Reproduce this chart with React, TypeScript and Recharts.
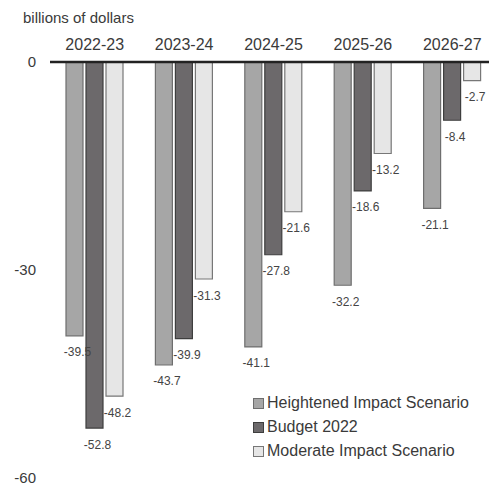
import React from "react";
import { BarChart, Bar, XAxis, YAxis, Legend, LabelList } from "recharts";

const categories = ["2022-23", "2023-24", "2024-25", "2025-26", "2026-27"];
const heightened = [-39.5, -43.7, -41.1, -32.2, -21.1];
const budget2022 = [-52.8, -39.9, -27.8, -18.6, -8.4];
const moderate = [-48.2, -31.3, -21.6, -13.2, -2.7];
const yTicks = [0, -30, -60];

const seriesOrder = ["heightened", "budget", "moderate"];
const seriesNames = {
  heightened: "Heightened Impact Scenario",
  budget: "Budget 2022",
  moderate: "Moderate Impact Scenario",
};

const data = categories.map((c, i) => ({
  year: c,
  heightened: heightened[i],
  budget: budget2022[i],
  moderate: moderate[i],
}));

const FONT = "'Liberation Sans', Arial, sans-serif";

const styles = {
  heightened: { fill: "#a6a6a6", stroke: "#6e6e6e" },
  budget: { fill: "#6c696b", stroke: "#3e3e3e" },
  moderate: { fill: "#e6e6e6", stroke: "#777777" },
};

const renderValueLabel = (props: any) => {
  const { x, y, width, height, value } = props;
  const end = Math.max(Number(y), Number(y) + Number(height));
  return (
    <text
      x={Number(x) + Number(width) / 2 + 3}
      y={end + 20.5}
      textAnchor="middle"
      fontSize={12}
      fontFamily={FONT}
      fill="#444444"
    >
      {Number(value).toFixed(1)}
    </text>
  );
};

const renderLegend = (props: any) => {
  const payload = [...(props.payload || [])].sort(
    (a: any, b: any) =>
      seriesOrder.indexOf(String(a.dataKey)) - seriesOrder.indexOf(String(b.dataKey))
  );
  return (
    <div style={{ fontFamily: FONT }}>
      {payload.map((entry: any) => {
        const key = entry.dataKey as keyof typeof styles;
        const st = styles[key];
        return (
          <div
            key={String(entry.value)}
            style={{ display: "flex", alignItems: "center", height: 24 }}
          >
            <span
              style={{
                display: "inline-block",
                width: 9,
                height: 9,
                background: st.fill,
                border: `1.5px solid ${st.stroke}`,
                marginRight: 3,
              }}
            />
            <span style={{ fontSize: 16, color: "#3a3a3a", lineHeight: "24px" }}>
              {entry.value}
            </span>
          </div>
        );
      })}
    </div>
  );
};

export default function App() {
  return (
    <div
      style={{
        position: "absolute",
        left: 0,
        top: 0,
        width: 489,
        height: 487,
        overflow: "hidden",
        background: "#fff",
      }}
    >
      <div
        style={{
          position: "absolute",
          left: 23,
          top: 9,
          fontFamily: FONT,
          fontSize: 15,
          lineHeight: "17px",
          color: "#3a3a3a",
          whiteSpace: "nowrap",
        }}
      >
        billions of dollars
      </div>
      <BarChart
        width={497}
        height={487}
        data={data}
        margin={{ top: 32, right: 0, left: 0, bottom: 9 }}
        barSize={17}
        barGap={3}
      >
        <XAxis
          dataKey="year"
          orientation="top"
          height={30}
          tickLine={false}
          tickSize={0}
          tickMargin={12}
          axisLine={{ stroke: "#222", strokeWidth: 2.5 }}
          tick={{ fontSize: 16, fill: "#3a3a3a", fontFamily: FONT }}
          interval={0}
        />
        <YAxis
          width={50}
          domain={[-60, 0]}
          ticks={yTicks}
          tickLine={false}
          axisLine={false}
          tickSize={0}
          tickMargin={14}
          tick={{ fontSize: 15, fill: "#3a3a3a", fontFamily: FONT }}
        />
        <Legend
          content={renderLegend}
          layout="vertical"
          align="center"
          verticalAlign="middle"
          wrapperStyle={{ position: "absolute", left: 253, top: 391, width: 236 }}
        />
        <Bar
          dataKey="heightened"
          name={seriesNames.heightened}
          fill={styles.heightened.fill}
          stroke={styles.heightened.stroke}
          strokeWidth={1.2}
          isAnimationActive={false}
        >
          <LabelList dataKey="heightened" content={renderValueLabel} />
        </Bar>
        <Bar
          dataKey="budget"
          name={seriesNames.budget}
          fill={styles.budget.fill}
          stroke={styles.budget.stroke}
          strokeWidth={1.2}
          isAnimationActive={false}
        >
          <LabelList dataKey="budget" content={renderValueLabel} />
        </Bar>
        <Bar
          dataKey="moderate"
          name={seriesNames.moderate}
          fill={styles.moderate.fill}
          stroke={styles.moderate.stroke}
          strokeWidth={1.2}
          isAnimationActive={false}
        >
          <LabelList dataKey="moderate" content={renderValueLabel} />
        </Bar>
      </BarChart>
    </div>
  );
}
